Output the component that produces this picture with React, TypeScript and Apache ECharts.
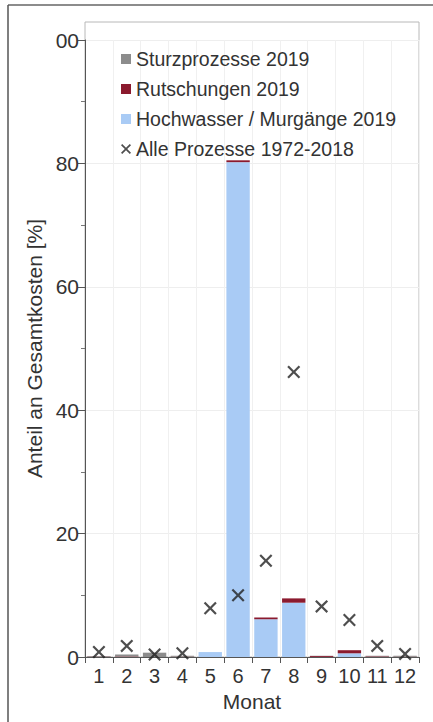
import React, { useEffect, useRef } from "react";
import * as echarts from "echarts";

const months = ["1", "2", "3", "4", "5", "6", "7", "8", "9", "10", "11", "12"];
const hochwasser = [0, 0, 0, 0, 0.8, 80.2, 6.1, 8.8, 0, 0.6, 0, 0];
const rutschungen = [0.05, 0.1, 0, 0.05, 0, 0.3, 0.3, 0.7, 0.15, 0.5, 0.1, 0.05];
const sturz = [0.1, 0.3, 0.7, 0.15, 0, 0, 0, 0, 0.05, 0, 0.1, 0.15];
const alle = [0.8, 1.8, 0.4, 0.6, 7.9, 10.0, 15.6, 46.2, 8.2, 6.0, 1.8, 0.5];

const FONT = "Liberation Sans, Arial, sans-serif";
const CROSS =
  "path://M1.2,0 L5,3.8 L8.8,0 L10,1.2 L6.2,5 L10,8.8 L8.8,10 L5,6.2 L1.2,10 L0,8.8 L3.8,5 L0,1.2 Z";

export default function App() {
  const ref = useRef<HTMLDivElement>(null);
  useEffect(() => {
    if (!ref.current) return;
    const chart = echarts.init(ref.current, undefined, { renderer: "svg" });
    chart.setOption({
      animation: false,
      backgroundColor: "#ffffff",
      textStyle: { fontFamily: FONT },
      grid: { left: 85, right: 14, top: 40, bottom: 65 },
      legend: {
        orient: "vertical",
        left: 116,
        top: 44,
        itemWidth: 10,
        itemHeight: 10,
        itemGap: 10,
        textStyle: { fontSize: 19.5, color: "#333", fontFamily: FONT },
        data: [
          { name: "Sturzprozesse 2019", icon: "rect", itemStyle: { color: "#8c8c8c" } },
          { name: "Rutschungen 2019", icon: "rect" },
          { name: "Hochwasser / Murgänge 2019", icon: "rect" },
          { name: "Alle Prozesse 1972-2018", icon: CROSS },
        ],
      },
      xAxis: {
        type: "category",
        data: months,
        name: "Monat",
        nameLocation: "middle",
        nameGap: 34,
        nameTextStyle: { fontSize: 21, color: "#333", fontFamily: FONT },
        axisLine: { lineStyle: { color: "#555", width: 1 } },
        axisTick: { show: true, alignWithLabel: false, interval: 0, length: 6, lineStyle: { color: "#555" } },
        axisLabel: { interval: 0, fontSize: 20, color: "#333", margin: 9, fontFamily: FONT },
        splitLine: { show: true, interval: 0, lineStyle: { color: "#f0f0f0", width: 1 } },
      },
      yAxis: {
        type: "value",
        min: 0,
        max: 100,
        interval: 20,
        name: "Anteil an Gesamtkosten [%]",
        nameLocation: "middle",
        nameGap: 39,
        nameTextStyle: { fontSize: 21, color: "#333", fontFamily: FONT },
        axisLine: { show: true, lineStyle: { color: "#555", width: 1 } },
        axisTick: { show: true, length: 7, lineStyle: { color: "#555" } },
        minorTick: { show: true, splitNumber: 2, length: 4, lineStyle: { color: "#777" } },
        axisLabel: {
          fontSize: 21,
          color: "#333",
          margin: 6,
          fontFamily: FONT,
          formatter: (v: number) => (v === 100 ? "00" : String(v)),
        },
        splitLine: { show: true, lineStyle: { color: "#eeeeee", width: 1 } },
      },
      graphic: [
        {
          type: "rect",
          shape: { x: 85, y: 22, width: 334, height: 635 },
          style: { fill: "none", stroke: "#b8b8b8", lineWidth: 1 },
          silent: true,
          z: 0,
        },
        {
          type: "line",
          shape: { x1: 8, y1: 5, x2: 433, y2: 5 },
          style: { stroke: "#666", lineWidth: 1.5 },
          silent: true,
        },
        {
          type: "line",
          shape: { x1: 8, y1: 5, x2: 8, y2: 722 },
          style: { stroke: "#555", lineWidth: 1.5 },
          silent: true,
        },
      ],
      series: [
        {
          name: "Hochwasser / Murgänge 2019",
          type: "bar",
          stack: "total",
          data: hochwasser,
          barCategoryGap: "16%",
          itemStyle: { color: "#a9cbf5" },
        },
        {
          name: "Rutschungen 2019",
          type: "bar",
          stack: "total",
          data: rutschungen,
          barCategoryGap: "16%",
          itemStyle: { color: "#8b1a2e" },
        },
        {
          name: "Sturzprozesse 2019",
          type: "bar",
          stack: "total",
          data: sturz,
          barCategoryGap: "16%",
          itemStyle: { color: "#8c8c8c" },
        },
        {
          name: "Alle Prozesse 1972-2018",
          type: "scatter",
          data: alle,
          symbol: CROSS,
          symbolSize: 13,
          itemStyle: { color: "#222" },
          z: 5,
        },
      ],
    });
    return () => chart.dispose();
  }, []);
  return (
    <div
      ref={ref}
      style={{ position: "fixed", left: 0, top: 0, width: 433, height: 722 }}
    />
  );
}
